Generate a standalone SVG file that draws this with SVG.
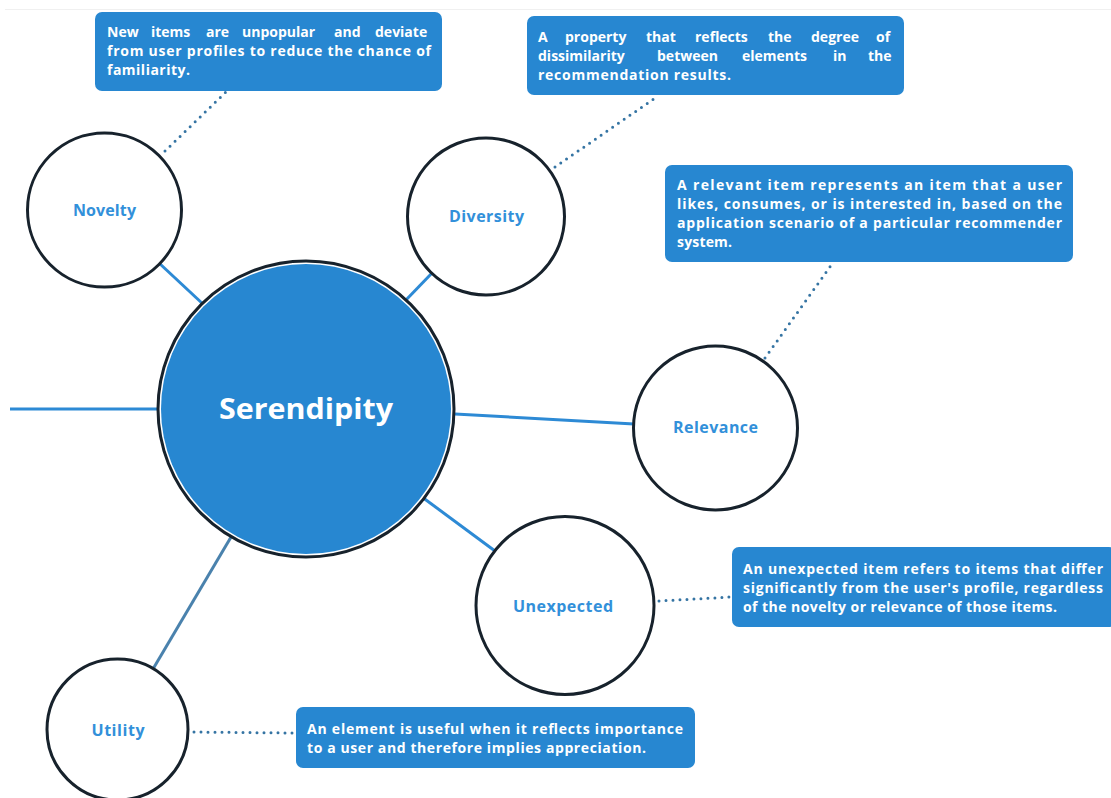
<svg xmlns="http://www.w3.org/2000/svg" width="1111" height="798" viewBox="0 0 1111 798">
  <style>
    .ring { fill: #ffffff; stroke: #17222c; stroke-width: 3; }
    .label { font-family: "Open Sans", "Liberation Sans", sans-serif; font-weight: 700; font-size: 16px; fill: #3290da; text-anchor: middle; }
    .title { font-family: "Open Sans", "Liberation Sans", sans-serif; font-weight: 700; font-size: 29px; fill: #ffffff; text-anchor: middle; }
    .box { fill: #2787d1; }
    .note { font-family: "Open Sans", "Liberation Sans", sans-serif; font-weight: 700; font-size: 14px; fill: #ffffff; }
    .link { stroke: #2d8ad5; stroke-width: 3; fill: none; }
    .dots { stroke: #3574a3; stroke-width: 3; stroke-linecap: round; stroke-dasharray: 0 7; fill: none; }
  </style>

  <rect width="1111" height="798" fill="#ffffff"/>
  <line x1="5" y1="9.5" x2="1111" y2="9.5" stroke="#f0f0f0" stroke-width="1"/>

  <!-- connectors -->
  <g id="connectors">
    <line class="link" x1="10" y1="409" x2="157" y2="409"/>
    <line class="link" x1="159" y1="263" x2="204" y2="305"/>
    <line class="link" x1="433" y1="272" x2="405" y2="301"/>
    <line class="link" x1="455" y1="414" x2="634" y2="424"/>
    <line class="link" x1="422" y1="497" x2="495" y2="551"/>
    <line class="link" x1="234" y1="532" x2="153" y2="669" style="stroke:#4a82ad"/>

    <line class="dots" x1="165" y1="151" x2="229" y2="89"/>
    <line class="dots" x1="555" y1="167" x2="658" y2="96"/>
    <line class="dots" x1="765" y1="358" x2="832" y2="264"/>
    <line class="dots" x1="659" y1="601" x2="731" y2="597"/>
    <line class="dots" x1="194" y1="732" x2="293" y2="733"/>
  </g>

  <!-- central node -->
  <g id="node-serendipity">
    <circle cx="306" cy="409" r="148" fill="#ffffff" stroke="#17222c" stroke-width="3"/>
    <circle cx="306" cy="409" r="145" fill="#2787d1"/>
    <text class="title" x="306" y="419" textLength="174" lengthAdjust="spacingAndGlyphs">Serendipity</text>
  </g>

  <g id="node-novelty">
    <circle class="ring" cx="104.5" cy="210" r="77"/>
    <text class="label" x="104.5" y="216" textLength="63">Novelty</text>
  </g>

  <g id="node-diversity">
    <circle class="ring" cx="486" cy="216.5" r="78.5"/>
    <text class="label" x="486.5" y="222" textLength="75">Diversity</text>
  </g>

  <g id="node-relevance">
    <circle class="ring" cx="715.5" cy="428" r="82"/>
    <text class="label" x="715.5" y="433" textLength="85">Relevance</text>
  </g>

  <g id="node-unexpected">
    <circle class="ring" cx="565" cy="605.5" r="89"/>
    <text class="label" x="563" y="612" textLength="100">Unexpected</text>
  </g>

  <g id="node-utility">
    <circle class="ring" cx="117.5" cy="729.5" r="70.5"/>
    <text class="label" x="118" y="736" textLength="53">Utility</text>
  </g>

  <!-- description boxes -->
  <g id="note-novelty">
    <rect class="box" x="95" y="12" width="347" height="79" rx="7"/>
    <text class="note" y="37">
      <tspan x="107">New</tspan><tspan x="151">items</tspan><tspan x="206">are</tspan><tspan x="242">unpopular</tspan><tspan x="334">and</tspan><tspan x="375">deviate</tspan>
    </text>
    <text class="note" x="107" y="56" textLength="324" lengthAdjust="spacing">from user profiles to reduce the chance of</text>
    <text class="note" x="107" y="75" textLength="83" lengthAdjust="spacing">familiarity.</text>
  </g>

  <g id="note-diversity">
    <rect class="box" x="527" y="16" width="377" height="79" rx="7"/>
    <text class="note" y="42">
      <tspan x="538">A</tspan><tspan x="565">property</tspan><tspan x="646">that</tspan><tspan x="695">reflects</tspan><tspan x="768">the</tspan><tspan x="811">degree</tspan><tspan x="876">of</tspan>
    </text>
    <text class="note" y="61">
      <tspan x="538">dissimilarity</tspan><tspan x="657">between</tspan><tspan x="742">elements</tspan><tspan x="833">in</tspan><tspan x="868">the</tspan>
    </text>
    <text class="note" x="538" y="80" textLength="193" lengthAdjust="spacing">recommendation results.</text>
  </g>

  <g id="note-relevance">
    <rect class="box" x="665" y="165" width="408" height="97" rx="7"/>
    <text class="note" x="677" y="190" textLength="385" lengthAdjust="spacing">A relevant item represents an item that a user</text>
    <text class="note" x="677" y="209" textLength="385" lengthAdjust="spacing">likes, consumes, or is interested in, based on the</text>
    <text class="note" x="677" y="228" textLength="385" lengthAdjust="spacing">application scenario of a particular recommender</text>
    <text class="note" x="677" y="247" textLength="55" lengthAdjust="spacing">system.</text>
  </g>

  <g id="note-unexpected">
    <rect class="box" x="732" y="547" width="384" height="80" rx="7"/>
    <text class="note" x="743" y="574" textLength="360" lengthAdjust="spacing">An unexpected item refers to items that differ</text>
    <text class="note" x="743" y="593" textLength="360" lengthAdjust="spacing">significantly from the user's profile, regardless</text>
    <text class="note" x="743" y="612" textLength="314" lengthAdjust="spacing">of the novelty or relevance of those items.</text>
  </g>

  <g id="note-utility">
    <rect class="box" x="296" y="707" width="399" height="61" rx="7"/>
    <text class="note" x="307" y="734" textLength="376" lengthAdjust="spacing">An element is useful when it reflects importance</text>
    <text class="note" x="307" y="753" textLength="339" lengthAdjust="spacing">to a user and therefore implies appreciation.</text>
  </g>
</svg>
